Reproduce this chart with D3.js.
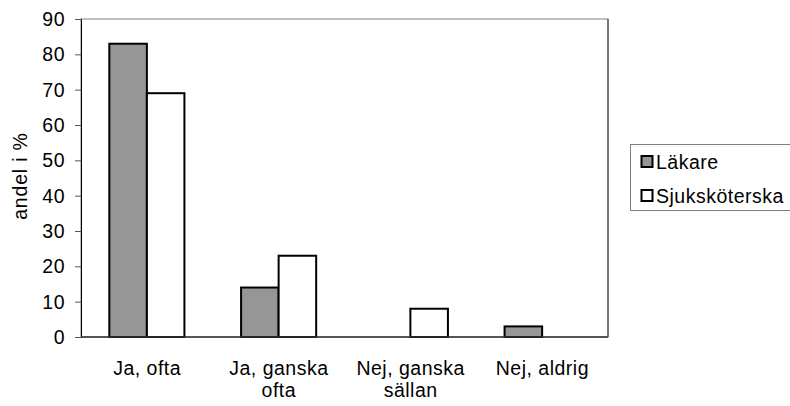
<!DOCTYPE html>
<html>
<head>
<meta charset="utf-8">
<script src="https://cdn.jsdelivr.net/npm/d3@7"></script>
<style>
  html, body { margin: 0; padding: 0; background: #fff; }
  svg text { font-family: "Liberation Sans", Arial, sans-serif; fill: #000; }
</style>
</head>
<body>
<svg id="chart" width="790" height="406"></svg>
<script>
// Survey answers: share of respondents per profession
const categories = [["Ja, ofta"], ["Ja, ganska", "ofta"], ["Nej, ganska", "sällan"], ["Nej, aldrig"]];
const seriesNames = ["Läkare", "Sjuksköterska"];
const lakare = [83, 14, 0, 3];
const sjukskoterska = [69, 23, 8, 0];
const yTicks = [0, 10, 20, 30, 40, 50, 60, 70, 80, 90];
const yLabel = "andel i %";

const fills = ["#969696", "#ffffff"];
const series = [lakare, sjukskoterska];

const FONT = 19.5;   // font size in px
const LS = 0.5;      // letter spacing in px

const svg = d3.select("#chart");
const plot = { left: 81, right: 608, top: 19, bottom: 337 };

// label text; trailing spacing is compensated for centred/right anchors
function label(parent, x, y, str, anchor, ls = LS, rotate = 0) {
  const shift = anchor === "end" ? ls : anchor === "middle" ? ls / 2 : 0;
  return parent.append("text")
    .attr("transform", `translate(${x},${y}) rotate(${rotate})`)
    .attr("x", shift)
    .attr("text-anchor", anchor)
    .style("font-size", FONT + "px")
    .style("letter-spacing", ls + "px")
    .text(str);
}

const x0 = d3.scaleBand()
  .domain(d3.range(categories.length))
  .range([plot.left, plot.right]);

const groupW = x0.bandwidth() * 0.57;
const x1 = d3.scaleBand()
  .domain(d3.range(series.length))
  .range([0, groupW]);

const y = d3.scaleLinear().domain([0, 90]).range([plot.bottom, plot.top]);

// plot frame
svg.append("rect")
  .attr("x", plot.left).attr("y", plot.top)
  .attr("width", plot.right - plot.left).attr("height", plot.bottom - plot.top)
  .attr("fill", "none").attr("stroke", "#808080").attr("stroke-width", 1);
svg.append("line")
  .attr("x1", plot.right).attr("x2", plot.right)
  .attr("y1", plot.top).attr("y2", plot.bottom)
  .attr("stroke", "#333").attr("stroke-width", 1);

// bars
series.forEach((vals, si) => {
  svg.append("g")
    .selectAll("rect")
    .data(vals.map((v, i) => ({ v, i })).filter(d => d.v > 0))
    .join("rect")
    .attr("x", d => x0(d.i) + x0.bandwidth() / 2 - groupW / 2 + x1(si))
    .attr("y", d => y(d.v))
    .attr("width", x1.bandwidth())
    .attr("height", d => y(0) - y(d.v))
    .attr("fill", fills[si])
    .attr("stroke", "#000")
    .attr("stroke-width", 2);
});

// y axis (line and ticks from d3, labels drawn separately)
const yAxis = d3.axisLeft(y).tickValues(yTicks).tickSize(6).tickFormat("");
const ya = svg.append("g").attr("transform", `translate(${plot.left},0)`).call(yAxis);
ya.select(".domain").attr("stroke", "#000");
ya.selectAll(".tick line").attr("stroke", "#555");

const yl = svg.append("g");
yTicks.forEach(t => label(yl, 64.5, y(t) + 7, d3.format("d")(t), "end"));

// x axis baseline
svg.append("line")
  .attr("x1", plot.left).attr("x2", plot.right)
  .attr("y1", y(0)).attr("y2", y(0))
  .attr("stroke", "#333").attr("stroke-width", 1.5);

// category labels
const cl = svg.append("g");
categories.forEach((lines, i) => {
  lines.forEach((ln, k) => {
    label(cl, x0(i) + x0.bandwidth() / 2, 375 + k * 21.5, ln, "middle");
  });
});

// y axis title
label(svg, 27, 176.5, yLabel, "middle", 0.8, -90);

// legend
const lg = svg.append("g");
lg.append("rect")
  .attr("x", 630.5).attr("y", 144.5)
  .attr("width", 200).attr("height", 66)
  .attr("fill", "#fff").attr("stroke", "#808080").attr("stroke-width", 1);
seriesNames.forEach((name, i) => {
  const yy = 156 + i * 34;
  lg.append("rect")
    .attr("x", 641.5).attr("y", yy)
    .attr("width", 11).attr("height", 11)
    .attr("fill", fills[i]).attr("stroke", "#000").attr("stroke-width", 2);
  label(lg, 656, yy + 12.5, name, "start");
});
</script>
</body>
</html>
